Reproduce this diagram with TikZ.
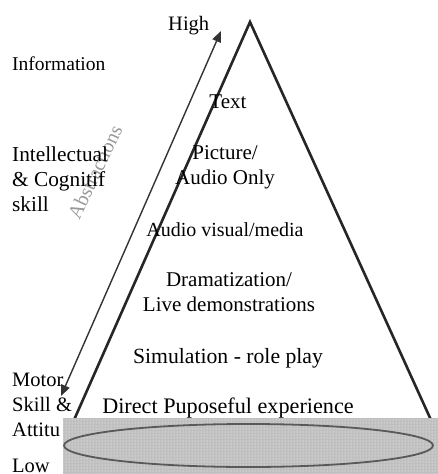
\documentclass[tikz,border=0pt]{standalone}
\usepackage{fontspec}
\setmainfont{Liberation Serif}
\usetikzlibrary{arrows.meta,patterns}
\newcommand{\sz}[1]{\fontsize{#1}{25}\selectfont}
\tikzset{
  side/.style={inner sep=0pt, anchor=north west, align=left, font=\sz{20.5}},
  level/.style={inner sep=0pt, anchor=north, align=center, font=\sz{21}},
  edge/.style={line width=2.6pt, black!85},
  scale arrow/.style={line width=1.4pt, black!80, {Triangle[length=11pt,width=9pt]}-{Triangle[length=11pt,width=9pt]}},
  base band/.style={fill=gray!50, draw=none},
  base ring/.style={draw=black!65, line width=1.8pt},
}
\begin{document}
\begin{tikzpicture}[x=1pt,y=-1pt]
\useasboundingbox (0,0) rectangle (438,474);
\fill[white] (0,0) rectangle (438,474);

% pyramid outline
\coordinate (apex) at (250,22);
\coordinate (bl) at (74,420);
\coordinate (br) at (431,420);
\draw[edge, line join=miter] (bl) -- (apex) -- (br);

% abstraction scale
\coordinate (hi) at (221,31);
\coordinate (lo) at (61,396);
\draw[scale arrow] (lo) -- (hi);
\node[rotate=64.5, text=gray!80, inner sep=0pt, font=\sz{20}] (abs) at (95,172) {Abstractions};

% side labels
\node[side] (high) at (168,16) {High};
\node[side, font=\sz{19.5}] (info) at (12,57) {Information};
\node[side, font=\sz{21.3}] (intel) at (12,147) {Intellectual\\\& Cognitif\\skill};
\node[side] (motor) at (12,373) {Motor\\Skill \&\\Attitu};
\node[side] (low) at (12,459) {Low};

% pyramid levels
\node[level] (text) at (228,95) {Text};
\node[level] (pic) at (225,145) {Picture/\\Audio Only};
\node[level, font=\sz{20}] (av) at (225,222) {Audio visual/media};
\node[level] (drama) at (229,272) {Dramatization/\\Live demonstrations};
\node[level, font=\sz{21.7}] (sim) at (228,348) {Simulation - role play};
\node[level, font=\sz{22.2}] (direct) at (228,398) {Direct Puposeful experience};

% base band with ring
\fill[base band] (63,418) rectangle (438,474);
\fill[pattern=dots, pattern color=white] (63,418) rectangle (438,474);
\draw[base ring] (248.5,445.5) ellipse [x radius=184.5, y radius=21.5];
\end{tikzpicture}
\end{document}
